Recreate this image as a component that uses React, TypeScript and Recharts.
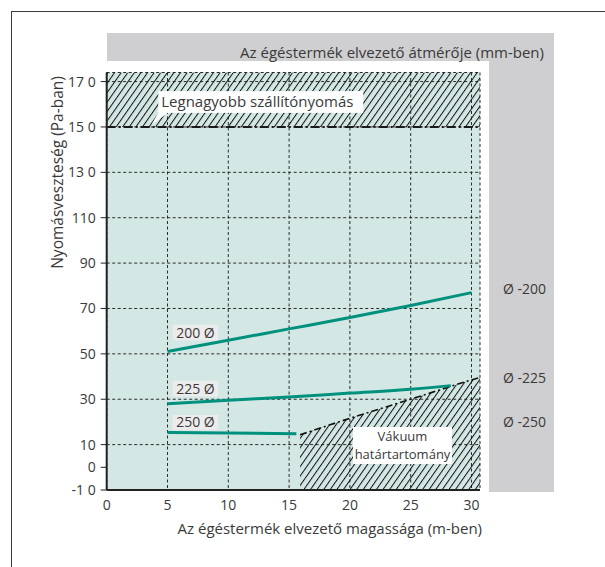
import React from 'react';
import {
  ComposedChart,
  Line,
  Area,
  XAxis,
  YAxis,
  CartesianGrid,
  ReferenceArea,
  ReferenceLine,
  ReferenceDot,
  Label,
} from 'recharts';

// ---- data ----
const xTicks = [0, 5, 10, 15, 20, 25, 30];
const yTicks = [-10, 0, 10, 30, 50, 70, 90, 110, 130, 150, 170];
const yTickLabels = ['-1 0', '0', '10', '30', '50', '70', '90', '110', '13 0', '15 0', '17 0'];

const d200X = [5, 10, 15, 20, 25, 30];
const d200Y = [51, 56, 61, 66, 71.3, 77];
const d225X = [5, 10, 15, 20, 25, 28.3];
const d225Y = [28, 29.6, 31, 32.7, 34.4, 36];
const d250X = [5, 10, 15.6];
const d250Y = [15.3, 15.1, 14.8];
const vacuumX = [15.9, 20, 25, 30, 30.7];
const vacuumY = [14.3, 21.6, 30, 38.5, 39.6];

const maxPressure = 150;
const seriesLabels = ['200 Ø', '225 Ø', '250 Ø'];
const sideLabels = ['Ø -200', 'Ø -225', 'Ø -250'];
const sideLabelAt = [78.7, 39.6, 20.4];

const headerText = 'Az égéstermék elvezető átmérője (mm-ben)';
const xTitle = 'Az égéstermék elvezető magassága (m-ben)';
const yTitle = 'Nyomásveszteség (Pa-ban)';
const maxText = 'Legnagyobb szállítónyomás';
const vacuumText = ['Vákuum', 'határtartomány'];

// ---- styles ----
const FONT = '"Open Sans", sans-serif';
const TEXT = '#3a3a3a';
const TEAL_BG = '#d3e8e4';
const TEAL = '#00917e';
const GRAY = '#cfcfd1';
const W = 605;
const H = 567;

const toPts = (xs: number[], ys: number[]) => xs.map((x, i) => ({ x, y: ys[i] }));

const makeSideLabel = (text: string) => (props: any) => {
  const vb = props.viewBox || {};
  return (
    <text x={vb.x + 23} y={vb.y} dominantBaseline="central" textAnchor="start" fill={TEXT} fontSize={14} fontFamily={FONT}>
      {text}
    </text>
  );
};

const CalloutShape = (props: any) => {
  const { x, y, width, height } = props;
  const by = y + height;
  return (
    <g>
      <rect x={x} y={y} width={width} height={height} fill="#fff" />
      <polygon points={`${x},${by - 0.5} ${x + 10},${by - 0.5} ${x - 6.6},${by + 11.7}`} fill="#fff" />
    </g>
  );
};

const YTitle = (props: any) => {
  const vb = props.viewBox || {};
  const x = vb.x + 10.5;
  const y = vb.y + 100;
  return (
    <text x={x} y={y} transform={`rotate(-90, ${x}, ${y})`} textAnchor="middle" dominantBaseline="central" fill={TEXT} fontSize={15.5} fontFamily={FONT}>
      {yTitle}
    </text>
  );
};

const XTitle = (props: any) => {
  const vb = props.viewBox || {};
  return (
    <text x={vb.x + vb.width + 2} y={vb.y + 38} textAnchor="end" dominantBaseline="central" fill={TEXT} fontSize={15} fontFamily={FONT}>
      {xTitle}
    </text>
  );
};

export default function App() {
  const labelBoxes = [
    { y1: 55.9, y2: 62.8 },
    { y1: 31.2, y2: 38.1 },
    { y1: 16.5, y2: 23.1 },
  ];
  return (
    <div style={{ position: 'absolute', left: 0, top: 0, width: W, height: H, background: '#fff', overflow: 'hidden', fontFamily: FONT }}>
      <div style={{ position: 'absolute', left: 11, top: 11, width: 700, height: 700, border: '1.5px solid #3c3c3c', boxSizing: 'border-box' }} />
      <div style={{ position: 'absolute', left: 107, top: 33, width: 447, height: 28, background: GRAY }} />
      <div style={{ position: 'absolute', left: 489, top: 33, width: 65, height: 459, background: GRAY }} />
      <div style={{ position: 'absolute', right: W - 544, top: 42, fontSize: 15, lineHeight: '20px', color: TEXT, whiteSpace: 'nowrap' }}>
        {headerText}
      </div>
      <div style={{ position: 'absolute', left: 0, top: 0 }}>
        <ComposedChart width={W} height={H} margin={{ top: 72.5, right: 125, bottom: 47, left: 46.7 }}>
          <defs>
            <pattern id="hatch" patternUnits="userSpaceOnUse" width="5.4" height="5.4" patternTransform="rotate(35)">
              <line x1="0.5" y1="-1" x2="0.5" y2="7" stroke="#111" strokeWidth="1" />
            </pattern>
          </defs>
          <CartesianGrid fill={TEAL_BG} fillOpacity={1} stroke="#2a2a2a" strokeDasharray="3 2.5" strokeWidth={1} />
          <XAxis
            dataKey="x"
            type="number"
            domain={[0, 30.7]}
            ticks={xTicks}
            allowDataOverflow
            axisLine={{ stroke: '#222', strokeWidth: 2 }}
            tickLine={false}
            tickSize={6}
            tickMargin={4}
            tick={{ fill: TEXT, fontSize: 14, fontFamily: FONT }}
            height={30}
          >
            <Label content={XTitle} />
          </XAxis>
          <YAxis
            type="number"
            domain={[-10, 174]}
            ticks={yTicks}
            allowDataOverflow
            tickFormatter={(v: number) => yTickLabels[yTicks.indexOf(v)]}
            axisLine={{ stroke: '#222', strokeWidth: 2 }}
            tickLine={{ stroke: '#222' }}
            tickSize={6}
            tickMargin={5}
            tick={{ fill: TEXT, fontSize: 14, fontFamily: FONT }}
            width={60}
          >
            <Label content={YTitle} />
          </YAxis>
          <ReferenceArea y1={maxPressure} y2={174} x1={0} x2={30.7} fill="url(#hatch)" fillOpacity={1} stroke="none" ifOverflow="hidden" />
          <ReferenceLine y={maxPressure} stroke="#1a1a1a" strokeWidth={2} strokeDasharray="9 3 2 3" />
          <Area
            data={toPts(vacuumX, vacuumY)}
            dataKey="y"
            type="monotone"
            baseValue="dataMin"
            fill="url(#hatch)"
            fillOpacity={1}
            stroke="#111"
            strokeWidth={1.6}
            strokeDasharray="7 3 2 3"
            isAnimationActive={false}
            dot={false}
            activeDot={false}
          />
          <Line data={toPts(d200X, d200Y)} dataKey="y" type="monotone" stroke={TEAL} strokeWidth={3} dot={false} activeDot={false} isAnimationActive={false} />
          <Line data={toPts(d225X, d225Y)} dataKey="y" type="monotone" stroke={TEAL} strokeWidth={3} dot={false} activeDot={false} isAnimationActive={false} />
          <Line data={toPts(d250X, d250Y)} dataKey="y" type="monotone" stroke={TEAL} strokeWidth={3} dot={false} activeDot={false} isAnimationActive={false} />
          {labelBoxes.map((b, i) => (
            <ReferenceArea
              key={i}
              x1={5.42}
              x2={9.17}
              y1={b.y1}
              y2={b.y2}
              fill="#ececec"
              fillOpacity={1}
              stroke="none"
              label={{ value: seriesLabels[i], position: 'center', fill: TEXT, fontSize: 14, fontFamily: FONT }}
            />
          ))}
          <ReferenceArea
            x1={4.24}
            x2={21.1}
            y1={156.2}
            y2={165.8}
            shape={CalloutShape}
            label={{ value: maxText, position: 'insideLeft', offset: 3, fill: TEXT, fontSize: 15, fontFamily: FONT }}
          />
          {sideLabels.map((t, i) => (
            <ReferenceDot key={t} x={30.7} y={sideLabelAt[i]} r={0} fill="none" stroke="none" ifOverflow="visible" label={makeSideLabel(t)} />
          ))}
        </ComposedChart>
      </div>
      <div
        style={{
          position: 'absolute',
          left: 353,
          top: 427,
          width: 99,
          height: 37,
          background: '#fff',
          color: TEXT,
          fontSize: 13,
          lineHeight: '17.8px',
          textAlign: 'center',
          display: 'flex',
          flexDirection: 'column',
          justifyContent: 'center',
          whiteSpace: 'nowrap',
        }}
      >
        <div>{vacuumText[0]}</div>
        <div>{vacuumText[1]}</div>
      </div>
    </div>
  );
}
